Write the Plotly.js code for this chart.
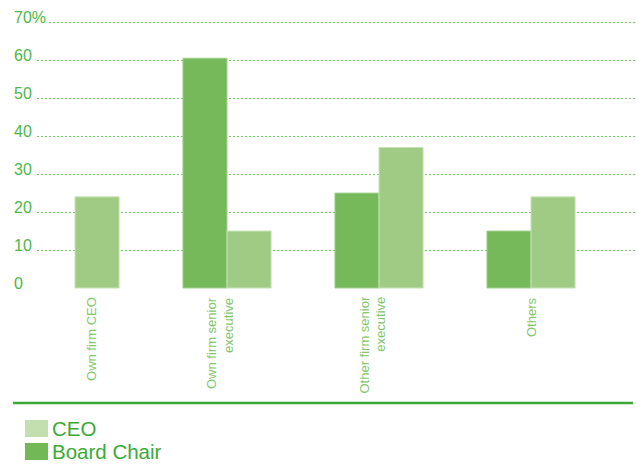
<!DOCTYPE html>
<html>
<head>
<meta charset="utf-8">
<script src="https://cdn.plot.ly/plotly-3.0.1.min.js"></script>
<style>html,body{margin:0;padding:0;background:#fff;}#chart{width:636px;height:468px;}</style>
</head>
<body>
<div id="chart"></div>
<script>
// ---- data ----
var categories = ["Own firm CEO", "Own firm senior<br>executive", "Other firm senior<br>executive", "Others"];
var seriesNames = ["Board Chair", "CEO"];
var boardChair = [0, 60.5, 25, 15];
var ceo = [24, 15, 37, 24];
var yTickVals = [0, 10, 20, 30, 40, 50, 60, 70];
var yTickLabels = ["0", "10", "20", "30", "40", "50", "60", "70%"];
var legendNames = ["CEO", "Board Chair"];

// ---- layout helpers ----
var W = 636, H = 468;
var yMin = -0.26, yMax = 70.3;
var L = 37, R = 0;
var T = Math.round(22 - (yMax - 70) * 3.8);
var B = Math.round(180 + yMin * 3.8);
var pw = W - L - R, ph = H - T - B;
var zeroPx = 288;
function px2x(px) { return (px - L) / pw; }
function px2y(py) { return (H - B - py) / ph; }
var labelShift = [0.105, -0.046, -0.046, 0];
var font = "Liberation Sans, Arial, Helvetica, sans-serif";
var green = "#3aaa35";

var xIdx = categories.map(function (c, i) { return i; });
function edgeWidths(arr) { return arr.map(function (v) { return v > 0 ? 1 : 0; }); }

var traces = [
  {type: "bar", name: seriesNames[0], x: xIdx, y: boardChair,
   marker: {color: "#75b95a", line: {color: "#a5d28f", width: edgeWidths(boardChair)}}, hoverinfo: "y"},
  {type: "bar", name: seriesNames[1], x: xIdx, y: ceo,
   marker: {color: "#9fcb84", line: {color: "#c8e4b6", width: edgeWidths(ceo)}}, hoverinfo: "y"}
];

var annotations = [];
yTickVals.forEach(function (v, i) {
  annotations.push({xref: "paper", yref: "y", x: px2x(13), y: v, xanchor: "left", yanchor: "middle",
    yshift: 5, text: yTickLabels[i], showarrow: false, bgcolor: "#ffffff", borderpad: 0,
    font: {family: font, size: 16, color: "#4cb848"}});
});
categories.forEach(function (c, i) {
  annotations.push({xref: "x", yref: "y", x: i + labelShift[i], y: 0, xanchor: "center", yanchor: "top",
    yshift: -7, textangle: -90, align: "right", text: c, showarrow: false,
    font: {family: font, size: 13, color: "#7fc66c"}});
});
var legendColors = ["#c3dfb0", "#72b856"];
var legendCenters = [428.5, 451.5];
var shapes = [
  {type: "line", xref: "paper", yref: "paper", x0: px2x(13), x1: px2x(633), y0: px2y(403), y1: px2y(403),
   line: {color: green, width: 2.5}}
];
legendNames.forEach(function (n, i) {
  var cy = legendCenters[i];
  shapes.push({type: "rect", xref: "paper", yref: "paper", x0: px2x(25), x1: px2x(48),
    y0: px2y(cy - 8.5), y1: px2y(cy + 8.5), line: {width: 0}, fillcolor: legendColors[i]});
  annotations.push({xref: "paper", yref: "paper", x: px2x(50), y: px2y(cy), xanchor: "left", yanchor: "middle",
    text: n, showarrow: false, font: {family: font, size: 20.5, color: green}});
});

var layout = {
  width: W, height: H,
  margin: {l: L, r: R, t: T, b: B, pad: 0},
  paper_bgcolor: "#ffffff", plot_bgcolor: "#ffffff",
  showlegend: false,
  barmode: "group", bargap: 0.42, bargroupgap: 0,
  font: {family: font},
  xaxis: {range: [-0.25, -0.25 + pw / 152], showticklabels: false, showgrid: false, zeroline: false,
          showline: false, ticks: "", fixedrange: true},
  yaxis: {range: [yMin, yMax], tickvals: yTickVals, showticklabels: false, showgrid: true,
          gridcolor: "#6ccb5a", gridwidth: 1, griddash: "2px,2px", zeroline: false, showline: false,
          ticks: "", fixedrange: true},
  annotations: annotations,
  shapes: shapes
};

Plotly.newPlot("chart", traces, layout, {displayModeBar: false, staticPlot: true});
</script>
</body>
</html>
